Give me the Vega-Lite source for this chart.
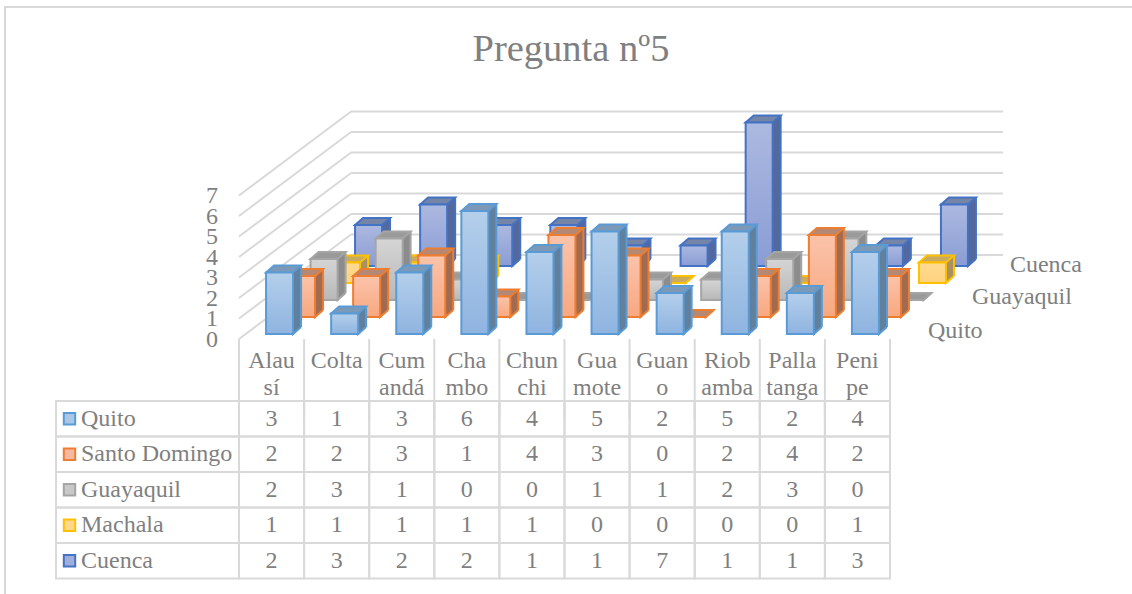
{"$schema":"https://vega.github.io/schema/vega-lite/v6.json","autosize":"none","width":1140,"height":600,"padding":{"left":5,"top":7,"right":0,"bottom":0},"background":"white",
"title":{"text":"Pregunta nº5","font":"Liberation Serif","fontSize":38.5,"fontWeight":"normal","color":"#7f7f7f","anchor":"middle","frame":"group","baseline":"alphabetic","offset":0,"dy":92,"dx":-4},
"config":{"view":{"stroke":"#d9d9d9","strokeWidth":2},"text":{"font":"Liberation Serif","fontSize":24,"color":"#7f7f7f"}},
"datasets":{"d":[
{"c":"Alausí","s":"Quito","v":3},{"c":"Colta","s":"Quito","v":1},{"c":"Cumandá","s":"Quito","v":3},{"c":"Chambo","s":"Quito","v":6},{"c":"Chunchi","s":"Quito","v":4},{"c":"Guamote","s":"Quito","v":5},{"c":"Guano","s":"Quito","v":2},{"c":"Riobamba","s":"Quito","v":5},{"c":"Pallatanga","s":"Quito","v":2},{"c":"Penipe","s":"Quito","v":4},
{"c":"Alausí","s":"Santo Domingo","v":2},{"c":"Colta","s":"Santo Domingo","v":2},{"c":"Cumandá","s":"Santo Domingo","v":3},{"c":"Chambo","s":"Santo Domingo","v":1},{"c":"Chunchi","s":"Santo Domingo","v":4},{"c":"Guamote","s":"Santo Domingo","v":3},{"c":"Guano","s":"Santo Domingo","v":0},{"c":"Riobamba","s":"Santo Domingo","v":2},{"c":"Pallatanga","s":"Santo Domingo","v":4},{"c":"Penipe","s":"Santo Domingo","v":2},
{"c":"Alausí","s":"Guayaquil","v":2},{"c":"Colta","s":"Guayaquil","v":3},{"c":"Cumandá","s":"Guayaquil","v":1},{"c":"Chambo","s":"Guayaquil","v":0},{"c":"Chunchi","s":"Guayaquil","v":0},{"c":"Guamote","s":"Guayaquil","v":1},{"c":"Guano","s":"Guayaquil","v":1},{"c":"Riobamba","s":"Guayaquil","v":2},{"c":"Pallatanga","s":"Guayaquil","v":3},{"c":"Penipe","s":"Guayaquil","v":0},
{"c":"Alausí","s":"Machala","v":1},{"c":"Colta","s":"Machala","v":1},{"c":"Cumandá","s":"Machala","v":1},{"c":"Chambo","s":"Machala","v":1},{"c":"Chunchi","s":"Machala","v":1},{"c":"Guamote","s":"Machala","v":0},{"c":"Guano","s":"Machala","v":0},{"c":"Riobamba","s":"Machala","v":0},{"c":"Pallatanga","s":"Machala","v":0},{"c":"Penipe","s":"Machala","v":1},
{"c":"Alausí","s":"Cuenca","v":2},{"c":"Colta","s":"Cuenca","v":3},{"c":"Cumandá","s":"Cuenca","v":2},{"c":"Chambo","s":"Cuenca","v":2},{"c":"Chunchi","s":"Cuenca","v":1},{"c":"Guamote","s":"Cuenca","v":1},{"c":"Guano","s":"Cuenca","v":7},{"c":"Riobamba","s":"Cuenca","v":1},{"c":"Pallatanga","s":"Cuenca","v":1},{"c":"Penipe","s":"Cuenca","v":3}
],"g":[{"v":0},{"v":1},{"v":2},{"v":3},{"v":4},{"v":5},{"v":6},{"v":7}],
"h":[{"c":"Alausí","l":"Alau\nsí"},{"c":"Colta","l":"Colta"},{"c":"Cumandá","l":"Cum\nandá"},{"c":"Chambo","l":"Cha\nmbo"},{"c":"Chunchi","l":"Chun\nchi"},{"c":"Guamote","l":"Gua\nmote"},{"c":"Guano","l":"Guan\no"},{"c":"Riobamba","l":"Riob\namba"},{"c":"Pallatanga","l":"Palla\ntanga"},{"c":"Penipe","l":"Peni\npe"}]},
"encoding":{"x":{"field":"c","type":"nominal","sort":null,"axis":null,"scale":{"domain":["Alausí","Colta","Cumandá","Chambo","Chunchi","Guamote","Guano","Riobamba","Pallatanga","Penipe"],"range":[234,885],"paddingInner":0,"paddingOuter":0}}},
"resolve":{"scale":{"y":"independent"},"axis":{"y":"independent"}},
"layer":[
{"encoding":{"y":{"field":"v","type":"quantitative","stack":null,"title":null,"scale":{"domain":[0,7],"range":[332,188.5],"nice":false,"zero":true},"axis":{"values":[0,1,2,3,4,5,6,7],"labelOverlap":false,"offset":-212.5,"labelPadding":0,"ticks":false,"domain":false,"grid":false,"title":null,"labelFont":"Liberation Serif","labelFontSize":24,"labelColor":"#7f7f7f"}}},
"layer":[
{"data":{"name":"g"},"mark":{"type":"rule","stroke":"#d9d9d9","strokeWidth":2,"x2Offset":79.5,"y2Offset":-84},"encoding":{"x":{"datum":"Alausí","bandPosition":0},"x2":{"datum":"Alausí"},"y2":{"field":"v"}}},
{"data":{"name":"g"},"mark":{"type":"rule","stroke":"#d9d9d9","strokeWidth":2,"xOffset":112,"yOffset":-84,"x2Offset":145.5},"encoding":{"x":{"datum":"Alausí","bandPosition":0},"x2":{"datum":"Penipe"}}},
{"data":{"name":"d"},"transform":[{"filter":"datum.s==='Cuenca'"}],"encoding":{"y2":{"datum":0}},"layer":[
{"mark":{"type":"bar","size":27,"fill":"#53689c","xOffset":105,"yOffset":-80,"y2Offset":-80}},
{"mark":{"type":"point","shape":"M13.5,-7L13.5,0L21.5,-7","size":4,"filled":true,"opacity":1,"fill":"#53689c","stroke":"#4472c4","strokeWidth":2,"xOffset":97,"yOffset":-73},"encoding":{"y":{"datum":0},"y2":null}},
{"mark":{"type":"rule","stroke":"#4472c4","strokeWidth":2,"xOffset":118.5,"yOffset":-80,"y2Offset":-80}},
{"mark":{"type":"point","shape":"M-13.5,0L13.5,0L21.5,-7L-5.5,-7Z","size":4,"filled":true,"opacity":1,"fill":"#7585a8","stroke":"#4472c4","strokeWidth":2,"xOffset":97,"yOffset":-73},"encoding":{"y2":null}},
{"mark":{"type":"bar","size":27,"stroke":"#4472c4","strokeWidth":2,"xOffset":97,"yOffset":-73,"y2Offset":-73,"fill":{"gradient":"linear","x1":0,"y1":0,"x2":0,"y2":1,"stops":[{"offset":0,"color":"#acb9e0"},{"offset":1,"color":"#8a9cd4"}]}}}
]},
{"data":{"name":"d"},"transform":[{"filter":"datum.s==='Machala'"}],"encoding":{"y2":{"datum":0}},"layer":[
{"mark":{"type":"bar","size":27,"fill":"#a89060","xOffset":83,"yOffset":-63,"y2Offset":-63}},
{"mark":{"type":"point","shape":"M13.5,-7L13.5,0L21.5,-7","size":4,"filled":true,"opacity":1,"fill":"#a89060","stroke":"#ffc000","strokeWidth":2,"xOffset":75,"yOffset":-56},"encoding":{"y":{"datum":0},"y2":null}},
{"mark":{"type":"rule","stroke":"#ffc000","strokeWidth":2,"xOffset":96.5,"yOffset":-63,"y2Offset":-63}},
{"mark":{"type":"point","shape":"M-13.5,0L13.5,0L21.5,-7L-5.5,-7Z","size":4,"filled":true,"opacity":1,"fill":"#c8aa60","stroke":"#ffc000","strokeWidth":2,"xOffset":75,"yOffset":-56},"encoding":{"y2":null}},
{"mark":{"type":"bar","size":27,"stroke":"#ffc000","strokeWidth":2,"xOffset":75,"yOffset":-56,"y2Offset":-56,"fill":{"gradient":"linear","x1":0,"y1":0,"x2":0,"y2":1,"stops":[{"offset":0,"color":"#ffdb90"},{"offset":1,"color":"#ffd280"}]}}}
]},
{"data":{"name":"d"},"transform":[{"filter":"datum.s==='Guayaquil'"}],"encoding":{"y2":{"datum":0}},"layer":[
{"mark":{"type":"bar","size":27,"fill":"#8c8c8c","xOffset":60.5,"yOffset":-46,"y2Offset":-46}},
{"mark":{"type":"point","shape":"M13.5,-7L13.5,0L21.5,-7","size":4,"filled":true,"opacity":1,"fill":"#8c8c8c","stroke":"#a5a5a5","strokeWidth":2,"xOffset":52.5,"yOffset":-39},"encoding":{"y":{"datum":0},"y2":null}},
{"mark":{"type":"rule","stroke":"#a5a5a5","strokeWidth":2,"xOffset":74,"yOffset":-46,"y2Offset":-46}},
{"mark":{"type":"point","shape":"M-13.5,0L13.5,0L21.5,-7L-5.5,-7Z","size":4,"filled":true,"opacity":1,"fill":"#9a9a9a","stroke":"#a5a5a5","strokeWidth":2,"xOffset":52.5,"yOffset":-39},"encoding":{"y2":null}},
{"mark":{"type":"bar","size":27,"stroke":"#a5a5a5","strokeWidth":2,"xOffset":52.5,"yOffset":-39,"y2Offset":-39,"fill":{"gradient":"linear","x1":0,"y1":0,"x2":0,"y2":1,"stops":[{"offset":0,"color":"#d5d5d5"},{"offset":1,"color":"#b8b8b8"}]}}}
]},
{"data":{"name":"d"},"transform":[{"filter":"datum.s==='Santo Domingo'"}],"encoding":{"y2":{"datum":0}},"layer":[
{"mark":{"type":"bar","size":27,"fill":"#a06b50","xOffset":38,"yOffset":-29,"y2Offset":-29}},
{"mark":{"type":"point","shape":"M13.5,-7L13.5,0L21.5,-7","size":4,"filled":true,"opacity":1,"fill":"#a06b50","stroke":"#ed7d31","strokeWidth":2,"xOffset":30,"yOffset":-22},"encoding":{"y":{"datum":0},"y2":null}},
{"mark":{"type":"rule","stroke":"#ed7d31","strokeWidth":2,"xOffset":51.5,"yOffset":-29,"y2Offset":-29}},
{"mark":{"type":"point","shape":"M-13.5,0L13.5,0L21.5,-7L-5.5,-7Z","size":4,"filled":true,"opacity":1,"fill":"#b58874","stroke":"#ed7d31","strokeWidth":2,"xOffset":30,"yOffset":-22},"encoding":{"y2":null}},
{"mark":{"type":"bar","size":27,"stroke":"#ed7d31","strokeWidth":2,"xOffset":30,"yOffset":-22,"y2Offset":-22,"fill":{"gradient":"linear","x1":0,"y1":0,"x2":0,"y2":1,"stops":[{"offset":0,"color":"#fbc3aa"},{"offset":1,"color":"#f8a880"}]}}}
]},
{"data":{"name":"d"},"transform":[{"filter":"datum.s==='Quito'"}],"encoding":{"y2":{"datum":0}},"layer":[
{"mark":{"type":"bar","size":27,"fill":"#60809e","xOffset":16,"yOffset":-12,"y2Offset":-12}},
{"mark":{"type":"point","shape":"M13.5,-7L13.5,0L21.5,-7","size":4,"filled":true,"opacity":1,"fill":"#60809e","stroke":"#5b9bd5","strokeWidth":2,"xOffset":8,"yOffset":-5},"encoding":{"y":{"datum":0},"y2":null}},
{"mark":{"type":"rule","stroke":"#5b9bd5","strokeWidth":2,"xOffset":29.5,"yOffset":-12,"y2Offset":-12}},
{"mark":{"type":"point","shape":"M-13.5,0L13.5,0L21.5,-7L-5.5,-7Z","size":4,"filled":true,"opacity":1,"fill":"#7c99b8","stroke":"#5b9bd5","strokeWidth":2,"xOffset":8,"yOffset":-5},"encoding":{"y2":null}},
{"mark":{"type":"bar","size":27,"stroke":"#5b9bd5","strokeWidth":2,"xOffset":8,"yOffset":-5,"y2Offset":-5,"fill":{"gradient":"linear","x1":0,"y1":0,"x2":0,"y2":1,"stops":[{"offset":0,"color":"#b4cfeb"},{"offset":1,"color":"#8fb4e0"}]}}}
]},
{"data":{"values":[{"s":"Cuenca","v":0}]},"mark":{"type":"text","align":"left","baseline":"alphabetic","dx":185,"dy":-67},"encoding":{"x":{"datum":"Penipe","bandPosition":0},"text":{"field":"s"}}},
{"data":{"values":[{"s":"Guayaquil","v":0}]},"mark":{"type":"text","align":"left","baseline":"alphabetic","dx":147,"dy":-35},"encoding":{"x":{"datum":"Penipe","bandPosition":0},"text":{"field":"s"}}},
{"data":{"values":[{"s":"Quito","v":0}]},"mark":{"type":"text","align":"left","baseline":"alphabetic","dx":103,"dy":-1},"encoding":{"x":{"datum":"Penipe","bandPosition":0},"text":{"field":"s"}}}
]},
{"encoding":{"y":{"field":"s","type":"nominal","sort":null,"axis":null,"scale":{"domain":["Quito","Santo Domingo","Guayaquil","Machala","Cuenca"],"range":[394,571.5],"paddingInner":0,"paddingOuter":0}}},
"layer":[
{"data":{"name":"d"},"mark":{"type":"rect","fillOpacity":0,"stroke":"#d9d9d9","strokeWidth":2}},
{"data":{"name":"d"},"transform":[{"filter":"datum.c==='Alausí'"}],"mark":{"type":"rect","fillOpacity":0,"stroke":"#d9d9d9","strokeWidth":2,"xOffset":-183,"x2Offset":-32.5},"encoding":{"x":{"datum":"Alausí","bandPosition":0},"x2":{"datum":"Alausí"}}},
{"data":{"name":"h"},"mark":{"type":"rule","stroke":"#d9d9d9","strokeWidth":2,"yOffset":-62},"encoding":{"x":{"field":"c","type":"nominal","bandPosition":0},"y":{"datum":"Quito","bandPosition":0},"y2":{"datum":"Quito"}}},
{"data":{"values":[{"c":"Penipe"}]},"mark":{"type":"rule","stroke":"#d9d9d9","strokeWidth":2,"yOffset":-62},"encoding":{"x":{"field":"c","type":"nominal","bandPosition":1},"y":{"datum":"Quito","bandPosition":0},"y2":{"datum":"Quito"}}},
{"data":{"name":"h"},"mark":{"type":"text","align":"center","baseline":"alphabetic","dy":-33,"lineBreak":"\n","lineHeight":27},"encoding":{"y":{"datum":"Quito","bandPosition":0},"text":{"field":"l"}}},
{"data":{"name":"d"},"mark":{"type":"text","align":"center","baseline":"middle"},"encoding":{"text":{"field":"v","type":"quantitative"}}},
{"data":{"name":"d"},"transform":[{"filter":"datum.c==='Alausí'"}],"mark":{"type":"text","align":"left","baseline":"middle","dx":-158},"encoding":{"x":{"datum":"Alausí","bandPosition":0},"text":{"field":"s"}}},
{"data":{"name":"d"},"transform":[{"filter":"datum.c==='Alausí'"}],"mark":{"type":"point","shape":"square","filled":true,"opacity":1,"size":130,"strokeWidth":2,"xOffset":-169.5},"encoding":{"x":{"datum":"Alausí","bandPosition":0},"fill":{"field":"s","type":"nominal","legend":null,"scale":{"domain":["Quito","Santo Domingo","Guayaquil","Machala","Cuenca"],"range":["#a9c8e8","#f8b8a0","#c8c8c8","#ffd88c","#a0aedc"]}},"stroke":{"field":"s","type":"nominal","legend":null,"scale":{"domain":["Quito","Santo Domingo","Guayaquil","Machala","Cuenca"],"range":["#5b9bd5","#ed7d31","#a5a5a5","#ffc000","#4472c4"]}}}}
]}
]}
